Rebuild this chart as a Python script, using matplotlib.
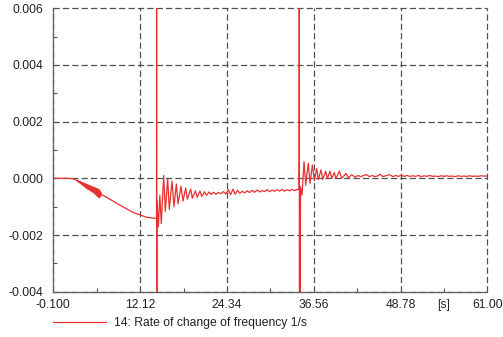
import numpy as np
import matplotlib
matplotlib.use("Agg")
import matplotlib.pyplot as plt
from matplotlib.ticker import FixedLocator

plt.rcParams["font.family"] = ["Liberation Sans", "DejaVu Sans"]

# ── data ────────────────────────────────────────────────────────────
# slow decline before the first event
pre_t = [-0.1, 2.2, 2.7, 3.2, 4.6, 5.5, 6.6, 7.9, 8.8, 11.2, 13.0, 14.2, 14.43]
pre_v = [0.0, 0.0, -0.00002, -0.00007, -0.00028, -0.00039, -0.00056,
         -0.00074, -0.00088, -0.00121, -0.00137, -0.00141, -0.00141]

# dense oscillation band (drawn filled)
band_t = [3.2, 4.6, 5.5, 6.3, 6.6]
band_hi = [-0.00005, -0.0002, -0.00029, -0.00038, -0.0005]
band_lo = [-0.00008, -0.00035, -0.00049, -0.00068, -0.00057]

# first event: spike off-scale, then damped ringing
ring1_t = [14.45, 14.45, 14.5, 14.7, 14.9, 15.1, 15.44, 15.67, 16.0, 16.23,
           16.61, 16.89, 17.22, 17.46, 17.88, 18.16, 18.54, 18.77, 19.24,
           19.47, 19.9, 20.17, 20.55, 20.8, 21.2, 21.45, 21.85, 22.1, 22.45,
           22.8, 23.15, 23.5, 23.85, 24.2, 24.55, 24.85, 25.2, 25.5, 25.85,
           26.15, 26.5, 26.85, 27.2, 27.55, 27.9, 28.25, 28.6, 28.95, 29.3,
           29.65, 30.0, 30.35, 30.7, 31.05, 31.4, 31.75, 32.1, 32.45, 32.8,
           33.15, 33.5, 33.85, 34.2, 34.5]
ring1_v = [0.03, -0.03, -0.0008, -0.0017, -0.0006, -0.0016, 0.0001, -0.00117,
           0.0, -0.0011, -0.0001, -0.0010, -0.0002, -0.0009, -0.00028,
           -0.0008, -0.00034, -0.00074, -0.00038, -0.0007, -0.00044, -0.00067,
           -0.00045, -0.00064, -0.00047, -0.0006, -0.00048, -0.00057, -0.00049,
           -0.00056, -0.0005, -0.00054, -0.00047, -0.00055, -0.0004, -0.00058,
           -0.00038, -0.00056, -0.00042, -0.00053, -0.00046, -0.00051,
           -0.00044, -0.0005, -0.00042, -0.00049, -0.00041, -0.00048,
           -0.00043, -0.00047, -0.0004, -0.00047, -0.00041, -0.00046, -0.0004,
           -0.00045, -0.00039, -0.00045, -0.0004, -0.00044, -0.00039,
           -0.00043, -0.00039, -0.0004]

# second event: spike off-scale, then ringing settling slightly above zero
ring2_t = [34.54, 34.54, 34.7, 34.91, 35.2, 35.43, 35.8, 36.04, 36.37, 36.65,
           36.98, 37.21, 37.59, 37.83, 38.25, 38.48, 38.86, 39.1, 39.46, 39.7,
           40.17, 40.5, 41.11, 41.43, 41.91, 42.38, 42.8, 43.2, 43.6, 44.0,
           44.4, 44.8, 45.2, 45.6, 45.9, 46.3, 46.8, 47.3, 47.7, 48.1, 48.5,
           48.9, 49.3, 49.7, 50.1, 50.5, 50.9, 51.3, 51.7, 52.1, 52.5, 52.9,
           53.3, 53.7, 54.1, 54.5, 54.9, 55.3, 55.7, 56.1, 56.5, 56.9, 57.3,
           57.7, 58.1, 58.5, 58.9, 59.3, 59.7, 60.1, 60.5, 61.0]
ring2_v = [0.03, -0.03, -0.0003, -0.00059, 0.00059, -0.00024, 0.00053,
           -0.00018, 0.00047, -0.00008, 0.00035, -0.00004, 0.0003, -0.00004,
           0.00025, -0.00001, 0.00025, 0.0, 0.0002, 0.0, 0.00025, 0.0,
           0.00017, 0.00002, 0.00013, 0.00004, 0.0001, 0.00006, 0.0001,
           0.00013, 0.00006, 0.0001, 0.00006, 0.00009, 0.00014, 0.00006,
           0.0001, 0.00013, 0.00006, 0.0001, 0.00007, 0.00011, 0.00007,
           0.0001, 0.00007, 0.00009, 0.00007, 0.0001, 0.00006, 0.00009,
           0.00007, 0.0001, 0.00007, 0.00008, 0.00006, 0.00009, 0.00007,
           0.00009, 0.00007, 0.00008, 0.00006, 0.00009, 0.00007, 0.00008,
           0.00007, 0.00009, 0.00007, 0.00008, 0.00007, 0.00009, 0.00008,
           0.00008]

x_ticks = [-0.1, 12.12, 24.34, 36.56, 48.78, 61.0]
x_labels = ["-0.100", "12.12", "24.34", "36.56", "48.78", "61.00"]
y_ticks = [-0.004, -0.002, 0.0, 0.002, 0.004, 0.006]
legend_label = "14: Rate of change of frequency 1/s"

red = "#e8302f"
grid_col = "#505050"
txt_col = "#222222"

# ── figure ──────────────────────────────────────────────────────────
fig = plt.figure(figsize=(5.03, 3.37), dpi=100)
ax = fig.add_axes([53.3 / 503, 1 - 291.7 / 337, 434 / 503, 283.4 / 337])

t = pre_t + ring1_t + ring2_t
v = pre_v + ring1_v + ring2_v
ax.plot(t, v, color=red, lw=0.9, label=legend_label)
ax.fill_between(band_t, band_lo, band_hi, color=red, lw=0.6, edgecolor=red)

ax.set_xlim(-0.1, 61.0)
ax.set_ylim(-0.004, 0.006)

ax.set_xticks(x_ticks)
ax.set_xticklabels(x_labels)
ax.set_yticks(y_ticks)
ax.set_yticklabels([f"{y:.3f}" for y in y_ticks])
ax.xaxis.set_minor_locator(FixedLocator([(a + b) / 2 for a, b in zip(x_ticks[:-1], x_ticks[1:])]))
ax.yaxis.set_minor_locator(FixedLocator([-0.003, -0.001, 0.001, 0.003, 0.005]))

ax.tick_params(which="major", length=0, labelsize=8.7, labelcolor=txt_col)
ax.tick_params(axis="x", which="major", pad=5)
ax.tick_params(axis="y", which="major", pad=7)
ax.tick_params(which="minor", direction="in", length=3, width=0.8, color="#555555")

ax.grid(True, which="major", ls=(0, (5, 2.5)), color=grid_col, lw=0.9)
for gl in ax.get_xgridlines() + ax.get_ygridlines():
    gl.set_clip_on(False)

for s in ("top", "right"):
    ax.spines[s].set_visible(False)
for s in ("left", "bottom"):
    ax.spines[s].set_color("#606060")
    ax.spines[s].set_linewidth(0.9)

ax.text(54.8, -0.047, "[s]", transform=ax.get_xaxis_transform(),
        ha="center", va="center", fontsize=8.7, color=txt_col)

ax.legend(loc="center left", bbox_to_anchor=(53.3 / 503, 1 - 323.3 / 337),
          bbox_transform=fig.transFigure, frameon=False, fontsize=8.7,
          handlelength=4.4, handletextpad=0.65, borderpad=0, borderaxespad=0,
          labelcolor=txt_col)

fig.savefig("out.png", dpi=100)
